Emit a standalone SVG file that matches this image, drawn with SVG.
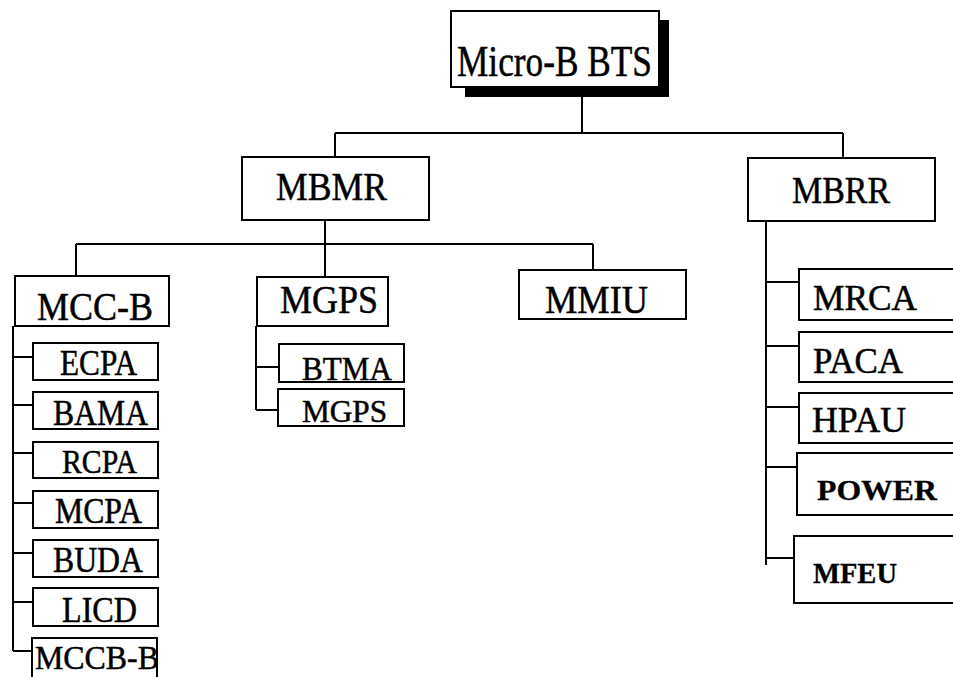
<svg xmlns="http://www.w3.org/2000/svg" width="953" height="677" viewBox="0 0 953 677">
<style>
.bg{fill:#ffffff}
.box{fill:#ffffff;stroke:#000;stroke-width:2}
.shadow{fill:#000}
.ln{fill:none;stroke:#000;stroke-width:2}
text{font-family:"Liberation Serif","Times New Roman",serif;fill:#000;stroke:#000;stroke-width:0.5}
.b{font-weight:bold;stroke-width:0.3}
</style>
<rect class="bg" x="0" y="0" width="953" height="677"/>
<g id="connectors">
<path class="ln" d="M582,97 V133 M335,133 H843 M335,133 V157 M843,133 V158"/>
<path class="ln" d="M325,220 V244 M76,244 H593 M76,244 V276 M325,244 V277 M593,244 V270"/>
<path class="ln" d="M13,326 V651 M13,357 H33 M13,405 H33 M13,453 H33 M13,503 H33 M13,553 H33 M13,602 H33 M13,651 H32"/>
<path class="ln" d="M256,326 V410 M256,367 H279 M256,410 H278"/>
<path class="ln" d="M766,221 V565 M766,282 H799 M766,346 H799 M766,407 H799 M766,467 H797 M766,558 H794"/>
</g>
<g id="micro-b-bts">
<rect class="shadow" x="465" y="20" width="204" height="77"/>
<rect class="box" x="451" y="11" width="208" height="76"/>
<text x="457" y="76" font-size="45" textLength="195" lengthAdjust="spacingAndGlyphs">Micro-B BTS</text>
</g>
<g id="mbmr">
<rect class="box" x="242" y="157" width="187" height="63"/>
<text x="276" y="200" font-size="39" textLength="111" lengthAdjust="spacingAndGlyphs">MBMR</text>
</g>
<g id="mbrr">
<rect class="box" x="748" y="158" width="187" height="63"/>
<text x="792" y="203" font-size="37" textLength="98" lengthAdjust="spacingAndGlyphs">MBRR</text>
</g>
<g id="mcc-b">
<rect class="box" x="15" y="276" width="154" height="50"/>
<text x="37" y="320" font-size="41" textLength="116" lengthAdjust="spacingAndGlyphs">MCC-B</text>
</g>
<g id="mgps">
<rect class="box" x="257" y="277" width="131" height="49"/>
<text x="280" y="313" font-size="39" textLength="98" lengthAdjust="spacingAndGlyphs">MGPS</text>
</g>
<g id="mmiu">
<rect class="box" x="519" y="270" width="167" height="49"/>
<text x="545" y="313" font-size="40" textLength="103" lengthAdjust="spacingAndGlyphs">MMIU</text>
</g>
<g id="ecpa">
<rect class="box" x="33" y="343" width="125" height="37"/>
<text x="60" y="375" font-size="35" textLength="77" lengthAdjust="spacingAndGlyphs">ECPA</text>
</g>
<g id="bama">
<rect class="box" x="33" y="392" width="125" height="37"/>
<text x="53" y="425" font-size="35" textLength="95" lengthAdjust="spacingAndGlyphs">BAMA</text>
</g>
<g id="rcpa">
<rect class="box" x="33" y="442" width="125" height="36"/>
<text x="62" y="473" font-size="34" textLength="75" lengthAdjust="spacingAndGlyphs">RCPA</text>
</g>
<g id="mcpa">
<rect class="box" x="33" y="491" width="125" height="37"/>
<text x="55" y="523" font-size="35" textLength="87" lengthAdjust="spacingAndGlyphs">MCPA</text>
</g>
<g id="buda">
<rect class="box" x="33" y="540" width="125" height="37"/>
<text x="53" y="572" font-size="35" textLength="90" lengthAdjust="spacingAndGlyphs">BUDA</text>
</g>
<g id="licd">
<rect class="box" x="33" y="588" width="125" height="38"/>
<text x="62" y="622" font-size="35" textLength="75" lengthAdjust="spacingAndGlyphs">LICD</text>
</g>
<g id="mccb-b">
<rect class="box" x="32" y="638" width="125" height="45"/>
<text x="35" y="669" font-size="33" textLength="124" lengthAdjust="spacingAndGlyphs">MCCB-B</text>
</g>
<g id="btma">
<rect class="box" x="279" y="344" width="125" height="38"/>
<text x="302" y="380" font-size="34" textLength="90" lengthAdjust="spacingAndGlyphs">BTMA</text>
</g>
<g id="mgps-sub">
<rect class="box" x="278" y="389" width="126" height="37"/>
<text x="302" y="422" font-size="32" textLength="85" lengthAdjust="spacingAndGlyphs">MGPS</text>
</g>
<g id="mrca">
<rect class="box" x="799" y="269" width="170" height="51"/>
<text x="813" y="310" font-size="35" textLength="104" lengthAdjust="spacingAndGlyphs">MRCA</text>
</g>
<g id="paca">
<rect class="box" x="799" y="332" width="170" height="50"/>
<text x="813" y="373" font-size="35" textLength="90" lengthAdjust="spacingAndGlyphs">PACA</text>
</g>
<g id="hpau">
<rect class="box" x="799" y="393" width="170" height="50"/>
<text x="812" y="432" font-size="35" textLength="94" lengthAdjust="spacingAndGlyphs">HPAU</text>
</g>
<g id="power">
<rect class="box" x="797" y="453" width="170" height="62"/>
<text class="b" x="817" y="500" font-size="29" textLength="120" lengthAdjust="spacingAndGlyphs">POWER</text>
</g>
<g id="mfeu">
<rect class="box" x="794" y="536" width="170" height="67"/>
<text class="b" x="813" y="583" font-size="29" textLength="84" lengthAdjust="spacingAndGlyphs">MFEU</text>
</g>
</svg>
